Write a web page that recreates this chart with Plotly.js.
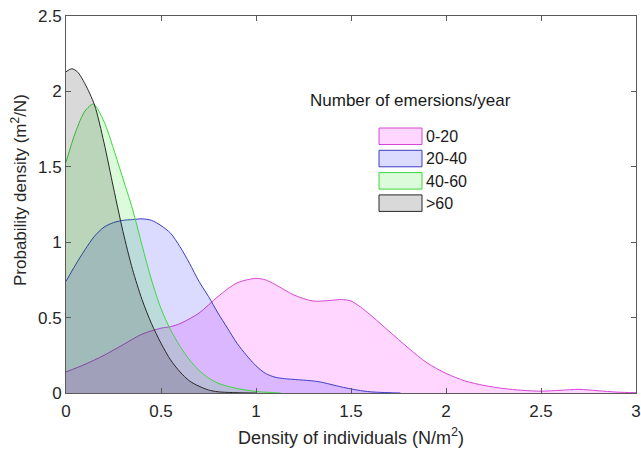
<!DOCTYPE html>
<html>
<head>
<meta charset="utf-8">
<script src="https://cdn.plot.ly/plotly-3.0.1.min.js"></script>
<style>html,body{margin:0;padding:0;background:#fff;}#chart{width:641px;height:453px;}</style>
</head>
<body>
<div id="chart"></div>
<script>
// Categories (number of emersions/year)
const categories = ["0-20", "20-40", "40-60", ">60"];

// Series: x (density of individuals, N/m2) and y (probability density)
const x_0_20 = [0, 0.1, 0.2, 0.3, 0.4, 0.5, 0.55, 0.6, 0.7, 0.8, 0.9, 1.0, 1.05, 1.1, 1.2, 1.3, 1.4, 1.45, 1.5, 1.55, 1.6, 1.7, 1.8, 1.9, 2.0, 2.1, 2.2, 2.3, 2.4, 2.5, 2.6, 2.7, 2.8, 2.9, 3.0];
const y_0_20 = [0.14, 0.19, 0.25, 0.32, 0.39, 0.43, 0.44, 0.46, 0.53, 0.64, 0.73, 0.76, 0.75, 0.72, 0.65, 0.61, 0.615, 0.62, 0.61, 0.57, 0.52, 0.41, 0.30, 0.20, 0.13, 0.08, 0.05, 0.03, 0.018, 0.012, 0.018, 0.024, 0.015, 0.006, 0.002];

const x_20_40 = [0, 0.05, 0.1, 0.15, 0.2, 0.25, 0.3, 0.35, 0.4, 0.45, 0.5, 0.55, 0.6, 0.65, 0.7, 0.75, 0.8, 0.85, 0.9, 0.95, 1.0, 1.05, 1.1, 1.15, 1.2, 1.3, 1.35, 1.4, 1.45, 1.5, 1.55, 1.6, 1.7, 1.76];
const y_20_40 = [0.74, 0.85, 0.95, 1.04, 1.10, 1.13, 1.145, 1.15, 1.155, 1.145, 1.11, 1.06, 0.97, 0.86, 0.74, 0.64, 0.53, 0.43, 0.33, 0.25, 0.18, 0.13, 0.105, 0.095, 0.09, 0.08, 0.07, 0.055, 0.04, 0.027, 0.016, 0.008, 0.002, 0];

const x_40_60 = [0, 0.05, 0.1, 0.144, 0.2, 0.25, 0.3, 0.35, 0.4, 0.45, 0.5, 0.55, 0.6, 0.65, 0.7, 0.75, 0.8, 0.85, 0.9, 1.0, 1.1, 1.13];
const y_40_60 = [1.53, 1.73, 1.87, 1.916, 1.80, 1.62, 1.42, 1.22, 0.98, 0.75, 0.56, 0.42, 0.31, 0.22, 0.15, 0.10, 0.065, 0.045, 0.03, 0.01, 0.002, 0];

const x_60 = [0, 0.03, 0.06, 0.1, 0.15, 0.2, 0.25, 0.3, 0.35, 0.4, 0.45, 0.5, 0.55, 0.6, 0.65, 0.7, 0.75, 0.8, 0.9, 1.0];
const y_60 = [2.13, 2.15, 2.13, 2.05, 1.91, 1.66, 1.36, 1.07, 0.82, 0.62, 0.46, 0.33, 0.22, 0.14, 0.08, 0.045, 0.02, 0.008, 0.002, 0];

const xTicks = [0, 0.5, 1, 1.5, 2, 2.5, 3];
const xTickLabels = ["0", "0.5", "1", "1.5", "2", "2.5", "3"];
const yTicks = [0, 0.5, 1, 1.5, 2, 2.5];
const yTickLabels = ["0", "0.5", "1", "1.5", "2", "2.5"];

const seriesX = [x_0_20, x_20_40, x_40_60, x_60];
const seriesY = [y_0_20, y_20_40, y_40_60, y_60];
const lineColors = ["rgb(214,70,214)", "rgb(60,60,200)", "rgb(60,215,60)", "rgb(40,40,40)"];
const fillColors = ["rgba(255,0,255,0.16)", "rgba(0,0,255,0.14)", "rgba(0,230,0,0.14)", "rgba(0,0,0,0.15)"];

const FONT = "Liberation Sans, Arial, Helvetica, sans-serif";
const TXT = "#262626";

const traces = categories.map((c, i) => ({
  type: "scatter",
  mode: "lines",
  name: c,
  x: seriesX[i],
  y: seriesY[i],
  fill: "tozeroy",
  fillcolor: fillColors[i],
  line: {color: lineColors[i], width: 1, shape: "spline", smoothing: 0.8},
  showlegend: false,
  hoverinfo: "x+y+name"
}));

// Custom legend box (paper coords based on plot area)
const plotL = 66, plotR = 636, plotT = 16, plotB = 393;
const px2x = p => (p - plotL) / (plotR - plotL);
const py2y = p => (plotB - p) / (plotB - plotT);
const shapes = [];
const annotations = [];
categories.forEach((c, i) => {
  const top = 128 + i * 22.3;
  shapes.push({
    type: "rect", xref: "paper", yref: "paper",
    x0: px2x(379), x1: px2x(422), y0: py2y(top + 16.5), y1: py2y(top),
    fillcolor: fillColors[i], line: {color: lineColors[i], width: 1}
  });
  annotations.push({
    xref: "paper", yref: "paper", x: px2x(424), y: py2y(top + 8.5),
    xanchor: "left", yanchor: "middle", showarrow: false,
    text: c, font: {family: FONT, size: 16, color: "#1a1a1a"}
  });
});
annotations.push({
  xref: "paper", yref: "paper", x: px2x(308), y: py2y(101),
  xanchor: "left", yanchor: "middle", showarrow: false,
  text: "Number of emersions/year", font: {family: FONT, size: 17, color: "#1a1a1a"}
});
// y-axis title (placed as in the reference, slightly above plot centre)
annotations.push({
  xref: "paper", yref: "paper", x: px2x(19), y: py2y(190),
  xanchor: "center", yanchor: "middle", showarrow: false, textangle: -90,
  text: "Probability density (m<sup>2</sup>/N)", font: {family: FONT, size: 17, color: TXT}
});

const axisCommon = {
  showgrid: false, zeroline: false,
  showline: true, linecolor: "#5a5a5a", linewidth: 1, mirror: "ticks",
  ticks: "inside", ticklen: 5, tickcolor: "#5a5a5a", tickwidth: 1,
  tickfont: {family: FONT, size: 17, color: TXT}
};

const layout = {
  width: 641, height: 453,
  margin: {l: plotL, r: 641 - plotR, t: plotT, b: 453 - plotB},
  paper_bgcolor: "#fff", plot_bgcolor: "#fff",
  font: {family: FONT, color: TXT},
  xaxis: Object.assign({}, axisCommon, {
    range: [0, 3], tickvals: xTicks, ticktext: xTickLabels,
    ticklabelstandoff: 3,
    title: {text: "Density of individuals (N/m<sup>2</sup>)", font: {family: FONT, size: 18, color: TXT}, standoff: 10}
  }),
  yaxis: Object.assign({}, axisCommon, {
    range: [0, 2.5], tickvals: yTicks, ticktext: yTickLabels
  }),
  shapes: shapes,
  annotations: annotations,
  showlegend: false
};

Plotly.newPlot("chart", traces, layout, {staticPlot: true, displayModeBar: false});
</script>
</body>
</html>
